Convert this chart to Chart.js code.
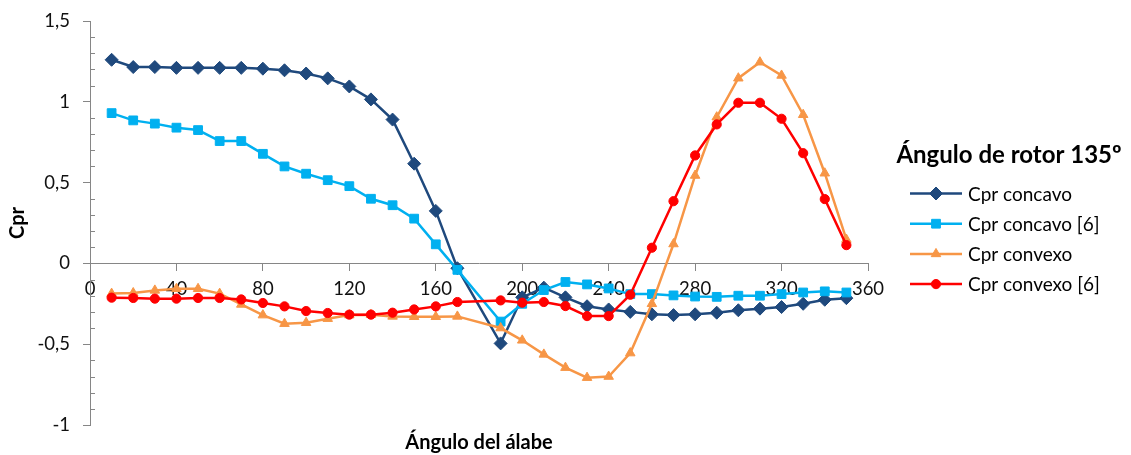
<!DOCTYPE html>
<html>
<head>
<meta charset="utf-8">
<script src="https://cdn.jsdelivr.net/npm/chart.js@4.4.1/dist/chart.umd.min.js"></script>
<style>
  html, body { margin: 0; padding: 0; background: #fff; }
  #wrap { width: 1131px; height: 455px; position: relative; }
</style>
</head>
<body>
<div id="wrap"><canvas id="c" width="1131" height="455"></canvas></div>
<script>
// ---- data ----
const angles = [10,20,30,40,50,60,70,80,90,100,110,120,130,140,150,160,170,
                190,200,210,220,230,240,250,260,270,280,290,300,310,320,330,340,350];
const cprConcavo = [1.26,1.215,1.215,1.21,1.21,1.21,1.21,1.205,1.195,1.175,1.145,1.095,1.015,0.89,0.617,0.325,-0.03,
                    -0.495,-0.21,-0.15,-0.21,-0.265,-0.285,-0.30,-0.315,-0.32,-0.315,-0.305,-0.29,-0.28,-0.27,-0.25,-0.225,-0.215];
const cprConcavo6 = [0.93,0.885,0.865,0.84,0.825,0.757,0.757,0.678,0.60,0.555,0.515,0.478,0.40,0.36,0.277,0.118,-0.04,
                     -0.36,-0.25,-0.165,-0.115,-0.13,-0.155,-0.19,-0.19,-0.198,-0.205,-0.207,-0.20,-0.20,-0.19,-0.18,-0.173,-0.18];
const cprConvexo = [-0.187,-0.183,-0.167,-0.157,-0.157,-0.187,-0.254,-0.32,-0.373,-0.367,-0.342,-0.32,-0.318,-0.328,-0.33,-0.33,-0.328,
                    -0.40,-0.476,-0.563,-0.645,-0.707,-0.70,-0.555,-0.25,0.12,0.544,0.905,1.146,1.245,1.163,0.92,0.558,0.148];
const cprConvexo6 = [-0.212,-0.214,-0.218,-0.218,-0.214,-0.214,-0.223,-0.245,-0.266,-0.295,-0.307,-0.317,-0.317,-0.305,-0.285,-0.266,-0.239,
                     -0.229,-0.243,-0.239,-0.264,-0.326,-0.326,-0.194,0.097,0.385,0.668,0.86,0.994,0.994,0.895,0.682,0.398,0.113];
const seriesLabels = ['Cpr concavo','Cpr concavo [6]','Cpr convexo','Cpr convexo [6]'];
const xTicks = [0,40,80,120,160,200,240,280,320,360];
const yTicks = [-1,-0.5,0,0.5,1,1.5];
const yMinorTicks = [];
for (let i = -10; i <= 15; i++) if (i % 5 !== 0) yMinorTicks.push(i / 10);
const legendTitle = 'Ángulo de rotor 135º';
const xTitle = 'Ángulo del álabe';
const yTitle = 'Cpr';

// ---- styles ----
const FONT = 'Lato';
const AXIS_COLOR = '#868686';
const colors = ['#1F497D', '#00B0F0', '#F79646', '#FF0000'];
const styles = ['rectRot', 'rect', 'triangle', 'circle'];
const radii = [6.5, 6.2, 5.5, 4.6];

function pts(vals) { return angles.map((a, i) => ({x: a, y: vals[i]})); }
const seriesValues = [cprConcavo, cprConcavo6, cprConvexo, cprConvexo6];

const datasets = seriesValues.map((vals, i) => ({
  label: seriesLabels[i],
  data: pts(vals),
  borderColor: colors[i],
  backgroundColor: colors[i],
  pointBackgroundColor: colors[i],
  pointBorderColor: colors[i],
  pointStyle: styles[i],
  pointRadius: radii[i],
  pointBorderWidth: 1,
  borderWidth: 2.5,
  tension: 0,
  order: 3 - i
}));

function fmt(v) {
  let s = (Math.round(v * 10) / 10).toFixed(1);
  if (s.endsWith('.0')) s = s.slice(0, -2);
  return s.replace('.', ',');
}

function drawMarker(ctx, style, r, x, y) {
  if (Chart.helpers && Chart.helpers.drawPoint) {
    Chart.helpers.drawPoint(ctx, {pointStyle: style, radius: r, borderWidth: 1, rotation: 0}, x, y);
    return;
  }
  ctx.beginPath(); ctx.arc(x, y, r, 0, Math.PI * 2); ctx.fill();
}

const sideLegend = {
  id: 'sideLegend',
  afterDraw(chart) {
    const ctx = chart.ctx;
    ctx.save();
    ctx.fillStyle = '#000';
    ctx.font = 'bold 24px ' + FONT;
    ctx.textAlign = 'center';
    ctx.textBaseline = 'middle';
    ctx.fillText(legendTitle, 1009, 155);
    chart.data.datasets.forEach((ds, i) => {
      const y = 193.5 + i * 30.2;
      ctx.strokeStyle = ds.borderColor;
      ctx.lineWidth = ds.borderWidth;
      ctx.beginPath(); ctx.moveTo(910, y); ctx.lineTo(962, y); ctx.stroke();
      ctx.fillStyle = ds.pointBackgroundColor;
      ctx.strokeStyle = ds.pointBorderColor;
      ctx.lineWidth = 1;
      drawMarker(ctx, ds.pointStyle, ds.pointRadius, 936, y);
      ctx.fillStyle = '#000';
      ctx.font = '19px ' + FONT;
      ctx.textAlign = 'left';
      ctx.fillText(ds.label, 968, y + 1);
    });
    ctx.restore();
  }
};

const minorTicks = {
  id: 'minorTicks',
  afterDatasetsDraw(chart) {
    const ys = chart.scales.y, ctx = chart.ctx;
    const x0 = chart.chartArea.left;
    ctx.save();
    ctx.strokeStyle = AXIS_COLOR;
    ctx.lineWidth = 1;
    yMinorTicks.forEach(v => {
      const py = Math.round(ys.getPixelForValue(v)) + 0.5;
      ctx.beginPath(); ctx.moveTo(x0, py); ctx.lineTo(x0 + 5, py); ctx.stroke();
    });
    ctx.restore();
  }
};

new Chart(document.getElementById('c'), {
  type: 'line',
  data: { datasets },
  plugins: [sideLegend, minorTicks],
  options: {
    responsive: false,
    animation: false,
    layout: { padding: { top: 21, right: 263, left: 0, bottom: 0 } },
    plugins: { legend: { display: false }, tooltip: { enabled: false } },
    scales: {
      x: {
        type: 'linear',
        position: { y: 0 },
        min: 0, max: 360,
        afterBuildTicks: s => { s.ticks = xTicks.map(v => ({value: v})); },
        grid: { drawOnChartArea: false, drawTicks: true, tickLength: 7, color: AXIS_COLOR, tickColor: AXIS_COLOR },
        border: { color: AXIS_COLOR, width: 1 },
        ticks: { color: '#111', font: { family: FONT, size: 18.5 }, padding: 8, autoSkip: false, maxRotation: 0,
                 callback: v => String(v) }
      },
      xb: {
        type: 'linear',
        position: 'bottom',
        min: 0, max: 360,
        afterFit: s => { s.height = 30; },
        grid: { display: false },
        border: { display: false },
        ticks: { display: false },
        title: { display: true, text: xTitle, color: '#000', font: { family: FONT, size: 20, weight: 'bold' }, padding: { top: 0, bottom: 0 } }
      },
      y: {
        type: 'linear',
        position: 'left',
        min: -1, max: 1.5,
        afterBuildTicks: s => { s.ticks = yTicks.map(v => ({value: v})); },
        afterFit: s => { s.width = 90; s.paddingTop = 0; s.paddingBottom = 0; },
        grid: { drawOnChartArea: false, drawTicks: true, tickLength: 7, color: AXIS_COLOR, tickColor: AXIS_COLOR },
        border: { color: AXIS_COLOR, width: 1 },
        ticks: { color: '#111', font: { family: FONT, size: 18.5 }, padding: 13, autoSkip: false, callback: v => fmt(v) },
        title: { display: true, text: yTitle, color: '#000', font: { family: FONT, size: 20, weight: 'bold' }, padding: { top: 6, bottom: 0 } }
      }
    }
  }
});
</script>
</body>
</html>
